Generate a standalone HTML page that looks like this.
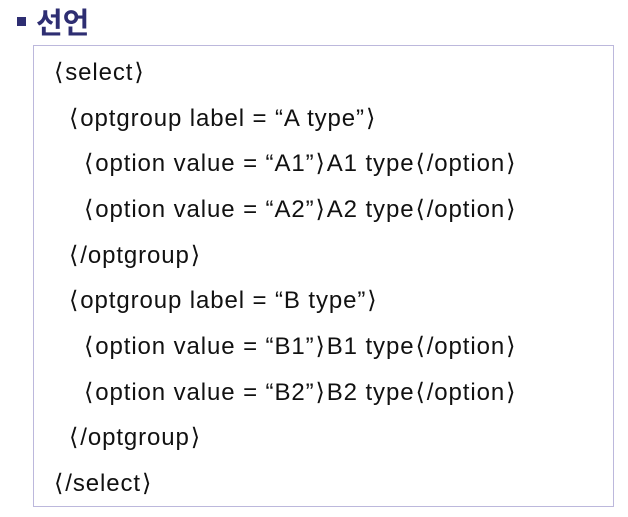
<!DOCTYPE html>
<html><head><meta charset="utf-8"><style>
body{margin:0;width:628px;height:517px;background:#fff;position:relative;overflow:hidden;font-family:"Liberation Sans","Noto Sans CJK KR",sans-serif;}
.b{position:absolute;left:17px;top:17px;width:9px;height:9px;background:#2e2e72;}
.t{position:absolute;left:36px;top:0px;font-size:29px;font-weight:bold;color:#2e2e72;font-family:"Noto Sans CJK KR",sans-serif;line-height:42px;}
.box{position:absolute;left:33px;top:45px;width:579px;height:460px;border:1px solid #bcb8dc;}
.l{position:absolute;font-size:24px;letter-spacing:0.9px;line-height:28px;color:#111;white-space:pre;}
.k{display:inline-block;padding:0 1px;}
</style></head><body>
<div class="b"></div><div class="t">선언</div>
<div class="box"></div>
<div class="l" style="left:53px;top:59px"><span class="k">⟨</span>select<span class="k">⟩</span></div>
<div class="l" style="left:68px;top:105px"><span class="k">⟨</span>optgroup label = “A type”<span class="k">⟩</span></div>
<div class="l" style="left:83px;top:150px"><span class="k">⟨</span>option value = “A1”<span class="k">⟩</span>A1 type<span class="k">⟨</span>/option<span class="k">⟩</span></div>
<div class="l" style="left:83px;top:196px"><span class="k">⟨</span>option value = “A2”<span class="k">⟩</span>A2 type<span class="k">⟨</span>/option<span class="k">⟩</span></div>
<div class="l" style="left:68px;top:242px"><span class="k">⟨</span>/optgroup<span class="k">⟩</span></div>
<div class="l" style="left:68px;top:287px"><span class="k">⟨</span>optgroup label = “B type”<span class="k">⟩</span></div>
<div class="l" style="left:83px;top:333px"><span class="k">⟨</span>option value = “B1”<span class="k">⟩</span>B1 type<span class="k">⟨</span>/option<span class="k">⟩</span></div>
<div class="l" style="left:83px;top:379px"><span class="k">⟨</span>option value = “B2”<span class="k">⟩</span>B2 type<span class="k">⟨</span>/option<span class="k">⟩</span></div>
<div class="l" style="left:68px;top:424px"><span class="k">⟨</span>/optgroup<span class="k">⟩</span></div>
<div class="l" style="left:53px;top:470px"><span class="k">⟨</span>/select<span class="k">⟩</span></div>
</body></html>
